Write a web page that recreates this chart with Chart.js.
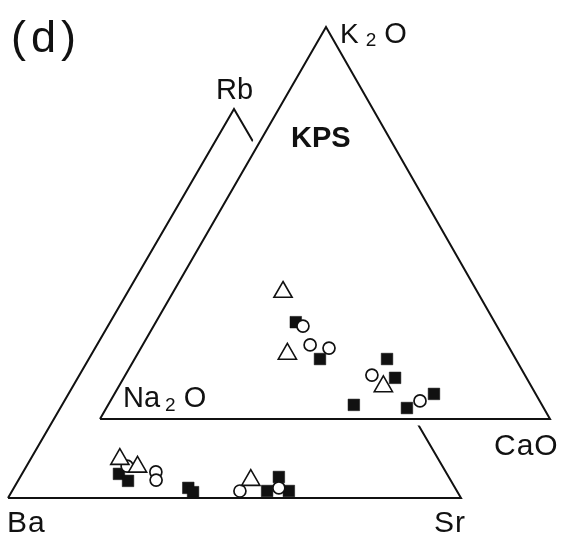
<!DOCTYPE html>
<html>
<head>
<meta charset="utf-8">
<script src="https://cdn.jsdelivr.net/npm/chart.js@4"></script>
<style>
  html, body { margin: 0; padding: 0; background: #fff; }
  canvas { display: block; }
</style>
</head>
<body>
<canvas id="ternary" width="562" height="534"></canvas>
<script>
// KPS diagram (d): K2O-Na2O-CaO (upper) and Rb-Ba-Sr (lower), values in %

// [K2O, Na2O, CaO]
const kpsSquares = [[24.7,44.2,31.1],[15.3,43.5,41.2],[15.3,28.6,56.1],[10.5,29.2,60.3],[3.6,41.8,54.6],[2.8,30.4,66.8],[6.4,22.6,71.0]];
const kpsCircles = [[23.7,43.1,33.2],[18.9,43.9,37.2],[18.1,40.1,41.8],[11.2,34.0,54.8],[4.6,26.6,68.8]];
const kpsTriangles = [[32.4,43.2,24.4],[16.6,50.1,33.3],[8.3,32.9,58.8]];

// [Rb, Ba, Sr]
const rbSquares = [[6.2,72.4,21.4],[4.4,71.3,24.3],[2.6,58.9,38.5],[1.5,58.4,40.1],[5.4,37.5,57.1],[1.8,41.9,56.3],[1.8,37.1,61.1]];
const rbCircles = [[8.2,69.6,22.2],[6.7,64.0,29.3],[4.6,65.0,30.4],[1.8,47.9,50.3],[2.6,38.9,58.5]];
const rbTriangles = [[10.0,70.3,19.7],[8.0,67.4,24.6],[4.6,44.1,51.3]];

// where each triangle's apexes sit in the drawing space
const kpsCorners = { top: [326, 27], left: [100, 419], right: [550, 419] };
const rbCorners = { top: [234, 109], left: [8, 498], right: [461, 498] };

function toXY(c, v) {
  const s = v[0] + v[1] + v[2];
  return {
    x: (v[0] * c.top[0] + v[1] * c.left[0] + v[2] * c.right[0]) / s,
    y: (v[0] * c.top[1] + v[1] * c.left[1] + v[2] * c.right[1]) / s
  };
}

function outline(c) {
  return [c.left, c.top, c.right, c.left].map(p => ({ x: p[0], y: p[1] }));
}

const pts = (corners, arr) => arr.map(v => toXY(corners, v));

const frame = {
  showLine: true, pointRadius: 0, borderColor: '#111', borderWidth: 2,
  tension: 0, fill: false, borderJoinStyle: 'miter'
};

const labels = {
  id: 'labels',
  afterDraw(chart) {
    const ctx = chart.ctx;
    ctx.save();
    ctx.fillStyle = '#111';
    ctx.textBaseline = 'alphabetic';
    const f = (size, w) => (w || '') + ' ' + size + 'px "Liberation Sans", Arial, sans-serif';
    const txt = (s, x, y, size, w) => { ctx.font = f(size, w); ctx.fillText(s, x, y); return x + ctx.measureText(s).width; };

    ctx.letterSpacing = '5px';
    txt('(d)', 11, 52, 45);
    ctx.letterSpacing = '0px';

    let x = txt('K', 340, 43, 28);
    x = txt('2', x + 7, 46, 19);
    txt('O', x + 8, 43, 29);

    txt('Rb', 216, 99, 29);
    txt('KPS', 291, 147, 29, 'bold');

    x = txt('Na', 123, 407, 29);
    x = txt('2', x + 5, 411, 19);
    txt('O', x + 8, 407, 29);

    ctx.letterSpacing = '1px';
    txt('CaO', 494, 455, 30);
    txt('Ba', 7, 532, 30);
    txt('Sr', 434, 532, 30);
    ctx.restore();
  }
};

new Chart(document.getElementById('ternary'), {
  type: 'scatter',
  data: {
    datasets: [
      { ...frame, data: outline(rbCorners), order: 10 },
      { ...frame, data: outline(kpsCorners), order: 9, borderColor: '#fff', borderWidth: 13,
        fill: 'shape', backgroundColor: '#fff' },
      { ...frame, data: outline(kpsCorners), order: 8 },
      { data: pts(kpsCorners, kpsSquares).concat(pts(rbCorners, rbSquares)), order: 3,
        pointStyle: 'rect', pointRadius: 8.2, backgroundColor: '#111', borderColor: '#111', borderWidth: 0.5 },
      { data: pts(kpsCorners, kpsCircles).concat(pts(rbCorners, rbCircles)), order: 2,
        pointStyle: 'circle', pointRadius: 6, backgroundColor: '#fff', borderColor: '#111', borderWidth: 1.7 },
      { data: pts(kpsCorners, kpsTriangles).concat(pts(rbCorners, rbTriangles)), order: 1,
        pointStyle: 'triangle', pointRadius: 10.5, backgroundColor: '#fff', borderColor: '#111', borderWidth: 1.6 }
    ]
  },
  options: {
    responsive: false,
    animation: false,
    devicePixelRatio: 1,
    layout: { padding: 0, autoPadding: false },
    plugins: { legend: { display: false }, tooltip: { enabled: false } },
    scales: {
      x: { type: 'linear', min: 0, max: 562, display: false },
      y: { type: 'linear', min: 0, max: 534, reverse: true, display: false }
    }
  },
  plugins: [labels]
});
</script>
</body>
</html>
